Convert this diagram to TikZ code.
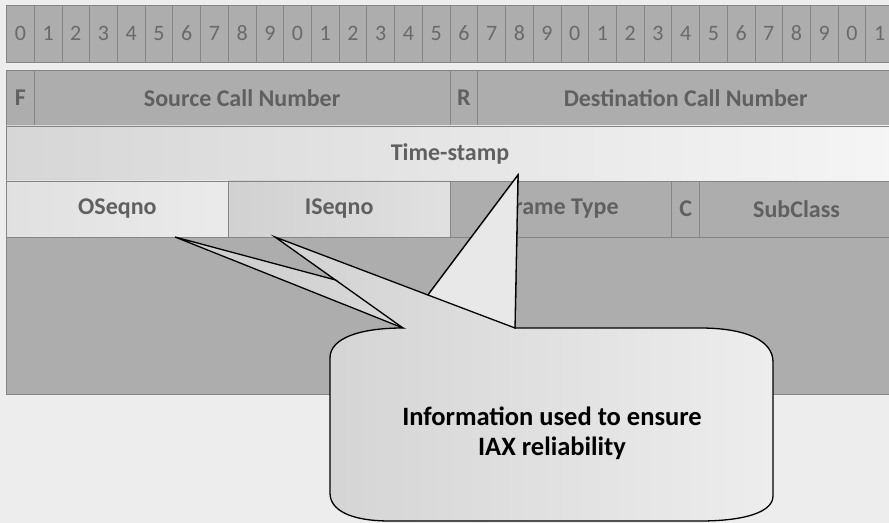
\documentclass[tikz,border=0pt]{standalone}
\usepackage{fontspec}
\setmainfont{Carlito}
\usetikzlibrary{positioning}

\definecolor{bggray}{HTML}{EDEDED}
\definecolor{cellgray}{HTML}{ADADAD}
\definecolor{linegray}{HTML}{858585}
\definecolor{txtgray}{HTML}{606060}
\definecolor{digitgray}{HTML}{6A6A6A}

\newcommand\digitfont{\fontsize{22bp}{24bp}\selectfont}
\newcommand\fieldfont{\fontsize{24bp}{27bp}\selectfont\bfseries}

\begin{document}
\begin{tikzpicture}[x=1bp, y=-1bp,
  field/.style = {shape=rectangle, draw=linegray, line width=0.8bp, fill=cellgray,
    text=txtgray, inner sep=0pt, outer sep=0pt, font=\fieldfont, minimum height=56bp},
  bits/.style = {minimum width=#1*27.72bp},
  callout/.style = {draw=black, line width=1.3bp, line join=miter}]
  \useasboundingbox (0,0) rectangle (889,523);
  \clip (0,0) rectangle (889,523);
  \fill[bggray] (0,0) rectangle (889,523);

  % bit ruler
  \foreach \i in {0,...,31} {
    \pgfmathtruncatemacro\d{mod(\i,10)}
    \node[field, bits=1, minimum height=57bp, anchor=north west, font=\digitfont,
      text=digitgray] (b\i) at ({6.5+27.72*\i},5) {\d};
  }

  % header fields
  \node[field, bits=1, anchor=north west] (f) at (6.5,70) {F};
  \node[field, bits=15, right=0pt of f] (src) {Source Call Number};
  \node[field, bits=1, right=0pt of src] (r) {R};
  \node[field, bits=15, right=0pt of r] (dst) {Destination Call Number};
  \node[field, bits=32, minimum height=55bp, anchor=north west,
    left color=black!16, right color=black!4] (ts) at (6.5,126) {Time-stamp};
  \node[field, bits=8, anchor=north west, left color=black!12, right color=black!8]
    (oseq) at (6.5,181) {OSeqno};
  \node[field, bits=8, right=0pt of oseq, left color=black!18, right color=black!12]
    (iseq) {ISeqno};
  \node[field, bits=8, right=0pt of iseq] (ftype) {Frame Type};
  \node[field, bits=1, right=0pt of ftype] (c) {C};
  \node[field, bits=7, right=0pt of c] (sub) {SubClass};
  \node[field, bits=32, minimum height=157bp, anchor=north west] (data) at (6.5,237) {};

  % callout
  \coordinate (bl) at (403,328);
  \coordinate (br) at (515,328);
  \coordinate (t1) at (175,237);
  \coordinate (t2) at (275,237);
  \coordinate (t3) at (518,175);
  \coordinate (x12) at (intersection of t1--br and t2--bl);
  \coordinate (x23) at (intersection of t3--bl and t2--br);
  \path[callout, left color=black!20, right color=black!7]
    (330,358) .. controls (330,338) and (360,328) .. (bl) -- (t1) -- (x12) -- (t2)
    -- (x23) -- (t3) -- (br) -- (700,328) .. controls (745,328) and (773,340) .. (773,362)
    -- (773,496) .. controls (773,512) and (745,521) .. (700,521)
    -- (390,521) .. controls (350,521) and (330,510) .. (330,493) -- cycle;
  \filldraw[callout, fill=black!9] (x23) -- (t3) -- (br) -- cycle;
  \draw[callout] (x12) -- (bl);
  \node[font=\fontsize{26.5bp}{30bp}\selectfont\bfseries, align=center] (note)
    at (552,433) {Information used to ensure\\IAX reliability};
\end{tikzpicture}
\end{document}
